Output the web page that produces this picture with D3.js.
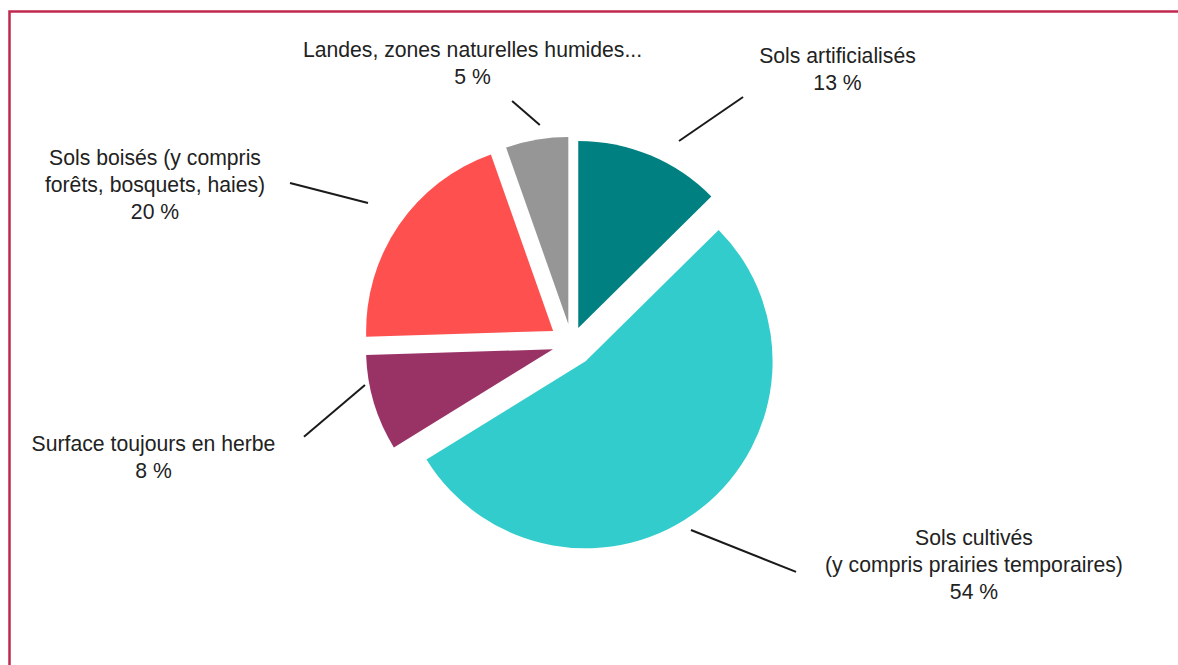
<!DOCTYPE html>
<html>
<head>
<meta charset="utf-8">
<script src="https://cdn.jsdelivr.net/npm/d3@7"></script>
<style>
  html, body { margin: 0; padding: 0; background: #ffffff; }
  svg { display: block; }
</style>
</head>
<body>
<div id="chart"></div>
<script>
// ---- Data ----
const categories = [
  "Sols artificialisés",
  "Sols cultivés (y compris prairies temporaires)",
  "Surface toujours en herbe",
  "Sols boisés (y compris forêts, bosquets, haies)",
  "Landes, zones naturelles humides..."
];
const values = [12.6, 53.6, 8.3, 20.1, 5.4];
const labelLines = [
  ["Sols artificialisés"],
  ["Sols cultivés", "(y compris prairies temporaires)"],
  ["Surface toujours en herbe"],
  ["Sols boisés (y compris", "forêts, bosquets, haies)"],
  ["Landes, zones naturelles humides..."]
];
const colors = ["#008080", "#33CCCC", "#993366", "#FF5050", "#969696"];

// ---- Layout (positions / styles) ----
const W = 1178, H = 665;
const cx = 571.7, cy = 343.6, R = 187;
const explode = [17, 22.5, 19.5, 22.5, 20];
// label anchor: text centre x and first baseline y
const labelPos = [
  {x: 837.5, y: 63},
  {x: 974, y: 545},
  {x: 153.5, y: 451},
  {x: 155, y: 165},
  {x: 472.5, y: 57}
];
// leader lines in polar coords (deg clockwise from 12 o'clock, radius px) around pie centre
const leaders = [
  {a0: 27.9, r0: 229.3, a1: 34.8, r1: 300.3},
  {a0: 147.4, r0: 221.3, a1: 135.5, r1: 320.1},
  {a0: 258.7, r0: 210.8, a1: 250.8, r1: 283.5},
  {a0: 304.6, r0: 247.5, a1: 299.7, r1: 324.3},
  {a0: 351.7, r0: 220.9, a1: 346.2, r1: 249.8}
];
const lineH = 27;
const fontSize = 21.2;

const svg = d3.select("#chart").append("svg")
  .attr("width", W).attr("height", H);

// border frame
svg.append("path")
  .attr("d", `M9.5,${H + 5} L9.5,11.5 L${W + 5},11.5`)
  .attr("fill", "none")
  .attr("stroke", "#C0284F")
  .attr("stroke-width", 2.5);

const pie = d3.pie().sort(null).value(d => d)(values);
const arc = d3.arc().innerRadius(0).outerRadius(R);

const g = svg.append("g").attr("transform", `translate(${cx},${cy})`);

g.selectAll("path.slice")
  .data(pie)
  .join("path")
  .attr("class", "slice")
  .attr("fill", (d, i) => colors[i])
  .attr("d", arc)
  .attr("transform", (d, i) => {
    const mid = (d.startAngle + d.endAngle) / 2;
    const dx = Math.sin(mid) * explode[i];
    const dy = -Math.cos(mid) * explode[i];
    return `translate(${dx},${dy})`;
  });

const polar = (deg, r) => {
  const a = deg * Math.PI / 180;
  return [Math.sin(a) * r, -Math.cos(a) * r];
};

g.selectAll("line.leader")
  .data(leaders)
  .join("line")
  .attr("class", "leader")
  .attr("x1", d => polar(d.a0, d.r0)[0])
  .attr("y1", d => polar(d.a0, d.r0)[1])
  .attr("x2", d => polar(d.a1, d.r1)[0])
  .attr("y2", d => polar(d.a1, d.r1)[1])
  .attr("stroke", "#1a1a1a")
  .attr("stroke-width", 2);

const fmt = d3.format(".0f");
const labels = svg.selectAll("text.lbl")
  .data(pie)
  .join("text")
  .attr("class", "lbl")
  .attr("text-anchor", "middle")
  .attr("font-family", "'Liberation Sans', Arial, sans-serif")
  .attr("font-size", fontSize)
  .attr("fill", "#222222");

labels.each(function(d, i) {
  const t = d3.select(this);
  const lines = labelLines[i].concat([fmt(d.data) + " %"]);
  lines.forEach((ln, k) => {
    t.append("tspan")
      .attr("x", labelPos[i].x)
      .attr("y", labelPos[i].y + k * lineH)
      .text(ln);
  });
});
</script>
</body>
</html>
